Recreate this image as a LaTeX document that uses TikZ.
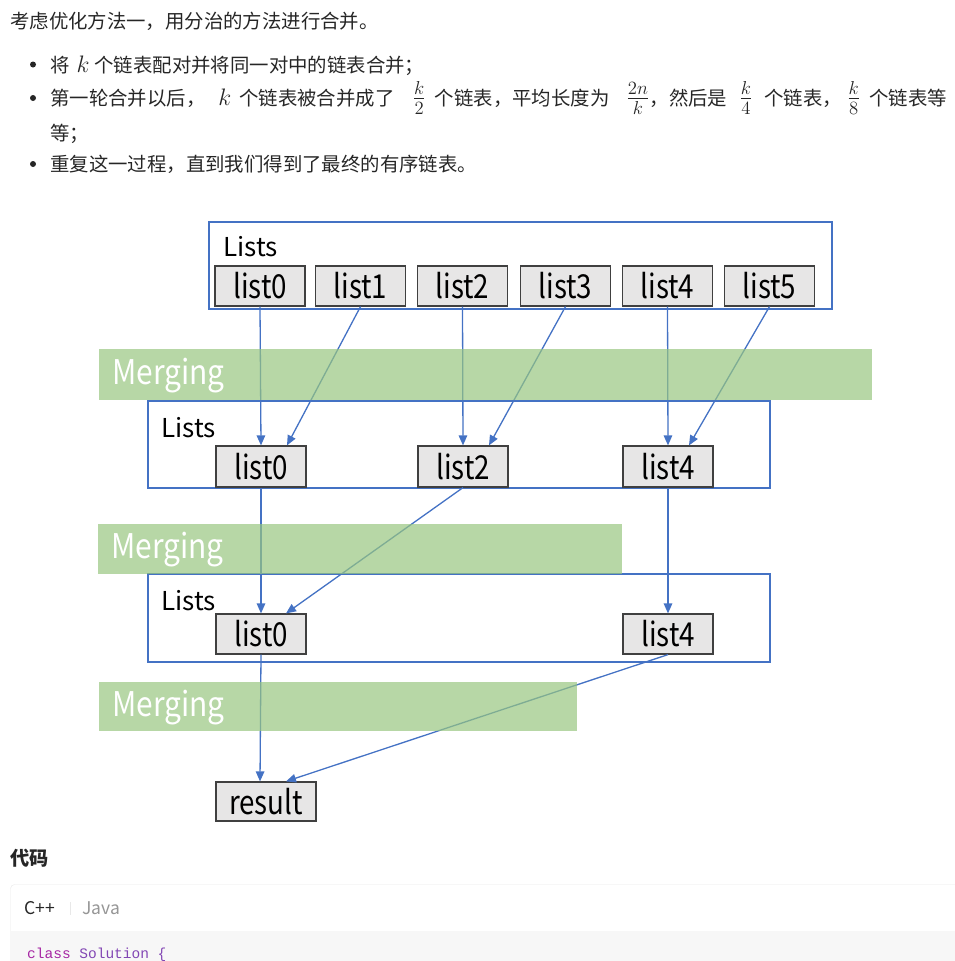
\documentclass[tikz,border=0pt]{standalone}
\usepackage{fontspec}
\setmainfont{Noto Sans CJK SC}
\newfontfamily\dfont{Noto Sans CJK SC}[FakeStretch=0.84]
\newfontfamily\mfont{Noto Sans CJK SC}[FakeStretch=0.88]
\newfontfamily\codefont{Liberation Mono}
\usetikzlibrary{arrows.meta}
\definecolor{txt}{RGB}{38,38,38}
\definecolor{lineblue}{RGB}{68,114,196}
\definecolor{boxblue}{RGB}{68,114,196}
\definecolor{boxfill}{RGB}{231,230,230}
\definecolor{boxedge}{RGB}{64,64,64}
\definecolor{bandgreen}{RGB}{152,198,128}
\definecolor{cardedge}{RGB}{232,232,232}
\definecolor{codebg}{RGB}{247,247,247}
\definecolor{kw}{RGB}{166,38,164}
\definecolor{cls}{RGB}{130,70,180}
\definecolor{tabgray}{RGB}{150,150,150}
\newcommand{\fr}[2]{\scalebox{1.3}{$\frac{#1}{#2}$}}
\newcommand{\kk}{\scalebox{1.15}{$k$}}
\newcommand{\gap}[1]{\hspace{#1pt}}
\tikzset{
 para/.style={anchor=base west, inner sep=0pt, text=txt, font=\fontsize{19.4}{23}\selectfont},
 bulletdot/.style={circle, fill=txt, inner sep=0pt, minimum size=6pt},
 container/.style={draw=boxblue, line width=1.3pt, fill=white},
 listbox/.style={draw=boxedge, fill=boxfill, line width=1.2pt, minimum width=90pt, minimum height=40pt, inner sep=0pt, font=\dfont\fontsize{33}{33}\selectfont},
 listslabel/.style={anchor=base west, inner sep=0pt, font=\fontsize{26}{26}\selectfont, text=black},
 band/.style={fill=bandgreen, fill opacity=0.7},
 bandlabel/.style={anchor=west, inner sep=0pt, text=white, font=\mfont\fontsize{34}{34}\selectfont},
 flow/.style={draw=lineblue, line width=1.3pt, -{Triangle[length=10pt,width=8.5pt]}},
}
\begin{document}
\begin{tikzpicture}[x=1pt,y=-1pt]
\useasboundingbox (0,0) rectangle (955,961);
% text
\node[para] (p1) at (10,28) {考虑优化方法一，用分治的方法进行合并。};
\node[bulletdot] (d1) at (33,64.5) {};
\node[para] (p2) at (50,72) {将\gap{7}\kk\gap{5}个链表配对并将同一对中的链表合并；};
\node[bulletdot] (d2) at (33,98) {};
\node[para] (p3) at (50,105) {第一轮合并以后，\gap{13}\kk\gap{8}个链表被合并成了\gap{18}\fr{k}{2}\gap{9}个链表，平均长度为\gap{17}\fr{2n}{k}，然后是\gap{12}\fr{k}{4}\gap{12}个链表，\gap{5}\fr{k}{8}\gap{9}个链表等};
\node[para] (p3b) at (50,140) {等；};
\node[bulletdot] (d3) at (33,164) {};
\node[para] (p4) at (50,171) {重复这一过程，直到我们得到了最终的有序链表。};
% containers
\draw[container] (209,222) rectangle (832,309);
\draw[container] (148,401) rectangle (770,488);
\draw[container] (148,574) rectangle (770,662);
\node[listslabel] (L1) at (223,256) {Lists};
\node[listslabel] (L2) at (161,437) {Lists};
\node[listslabel] (L3) at (161,610) {Lists};
% list boxes
\node[listbox] (t0) at (260,286) {list0};
\node[listbox] (t1) at (360.5,286) {list1};
\node[listbox] (t2) at (462.5,286) {list2};
\node[listbox] (t3) at (565.5,286) {list3};
\node[listbox] (t4) at (667.5,286) {list4};
\node[listbox] (t5) at (769.5,286) {list5};
\node[listbox, minimum height=41pt] (m0) at (261,466.5) {list0};
\node[listbox, minimum height=41pt] (m2) at (463,466.5) {list2};
\node[listbox, minimum height=41pt] (m4) at (668,466.5) {list4};
\node[listbox] (b0) at (261,634) {list0};
\node[listbox] (b4) at (668,634) {list4};
\node[listbox, minimum width=100pt, minimum height=39pt] (res) at (266,801.5) {result};
% arrows
\draw[flow] (t0.south) -- (m0.north);
\draw[flow] (t1.south) -- ([xshift=26pt]m0.north);
\draw[flow] (t2.south) -- (m2.north);
\draw[flow] (t3.south) -- ([xshift=26pt]m2.north);
\draw[flow] (t4.south) -- (m4.north);
\draw[flow] (t5.south) -- ([xshift=21pt]m4.north);
\draw[flow] (m0.south) -- (b0.north);
\draw[flow] (m2.south) -- ([xshift=25pt]b0.north);
\draw[flow] (m4.south) -- (b4.north);
\draw[flow] (b0.south) -- ([xshift=-6pt]res.north);
\draw[flow] (b4.south) -- ([xshift=20pt]res.north);
% bands
\fill[band] (99,349) rectangle (872,400);
\fill[band] (98,524) rectangle (622,574);
\fill[band] (99,682) rectangle (577,731);
\node[bandlabel] (g1) at (112,376) {Merging};
\node[bandlabel] (g2) at (111,550) {Merging};
\node[bandlabel] (g3) at (112,708) {Merging};
% code section
\node[anchor=base west, inner sep=0pt, text=txt, font=\fontsize{19.2}{23}\selectfont\bfseries] (code) at (10,865) {代码};
\draw[cardedge, fill=white, rounded corners=4pt] (10.5,884.5) rectangle (980,1000);
\fill[codebg] (11.2,931) rectangle (979,999);
\node[anchor=west, inner sep=0pt, text=txt, font=\fontsize{17.5}{18}\selectfont] (cpp) at (24,908) {C++};
\coordinate (s1) at (70,902);
\coordinate (s2) at (70,915);
\draw[cardedge] (s1) -- (s2);
\node[anchor=west, inner sep=0pt, text=tabgray, font=\fontsize{17.5}{18}\selectfont] (java) at (82,908) {Java};
\node[anchor=base west, inner sep=0pt, font=\codefont\fontsize{14.5}{15}\selectfont] (cl) at (27,958) {\textcolor{kw}{class} \textcolor{cls}{Solution \{}};
\end{tikzpicture}
\end{document}
